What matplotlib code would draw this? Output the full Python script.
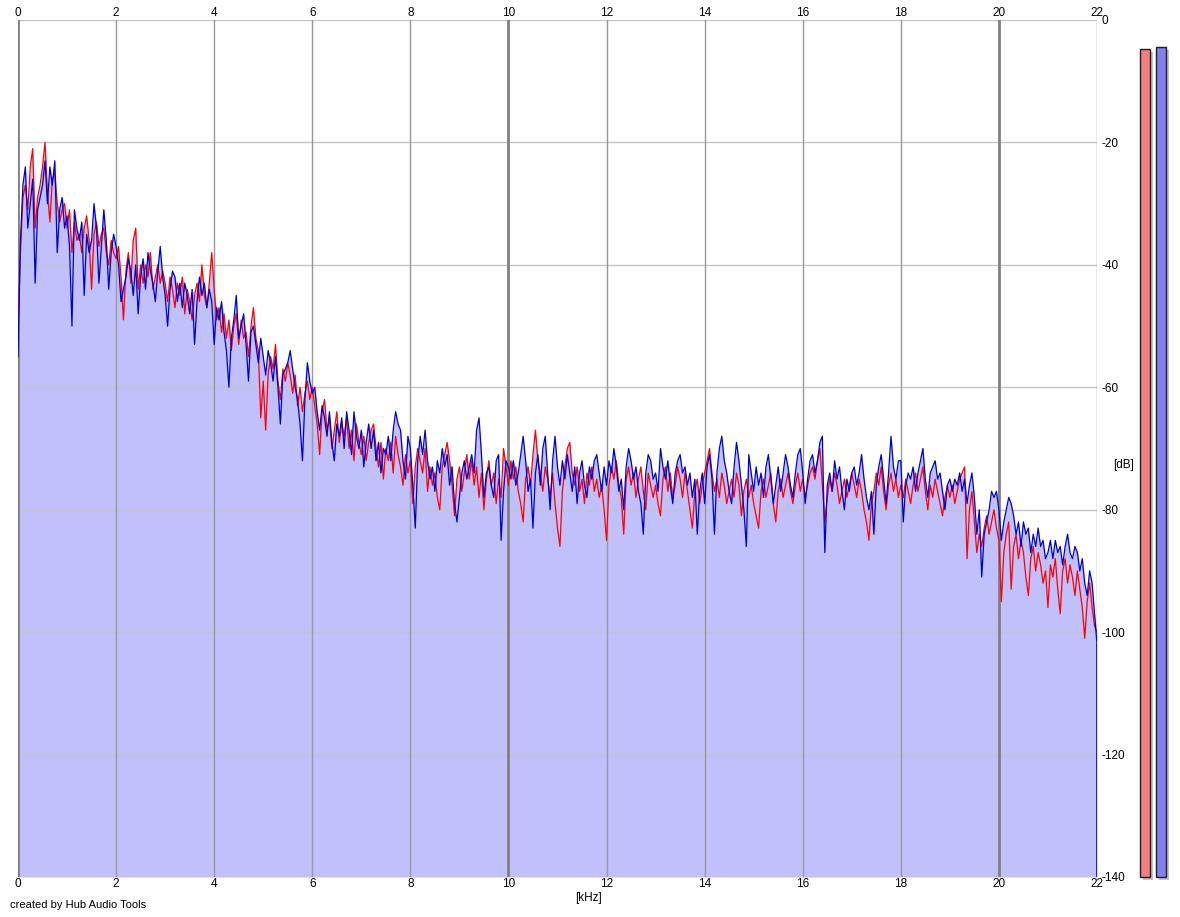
import numpy as np
import matplotlib
matplotlib.use("Agg")
import matplotlib.pyplot as plt

plt.rcParams['font.family'] = ['Liberation Sans', 'DejaVu Sans']

# spectrum, one value every 0.05 kHz from 0 to 22 kHz (dB)
step_khz = 0.05
blue_db = [
    -55, -36, -27, -24, -34, -30, -26, -43, -31, -29, -27, -23, -30, -24, -27, -23, -38, -31, -29, -34,
    -32, -37, -50, -31, -34, -36, -33, -45, -35, -38, -36, -30, -34, -43, -37, -31, -36, -44, -38, -35,
    -37, -40, -46, -44, -42, -39, -41, -45, -40, -48, -42, -39, -44, -38, -41, -43, -46, -41, -37, -42,
    -45, -50, -44, -41, -42, -46, -43, -47, -43, -45, -48, -44, -53, -46, -42, -45, -43, -47, -44, -46,
    -53, -47, -49, -46, -51, -54, -60, -52, -49, -45, -52, -50, -48, -53, -59, -51, -50, -53, -56, -52,
    -55, -58, -54, -56, -59, -55, -60, -66, -58, -57, -56, -54, -57, -60, -62, -66, -72, -62, -56, -59,
    -61, -60, -64, -67, -63, -65, -68, -64, -69, -72, -66, -68, -65, -70, -64, -67, -71, -64, -68, -70,
    -67, -73, -69, -66, -70, -67, -72, -69, -74, -70, -71, -68, -72, -67, -64, -66, -67, -72, -75, -68,
    -70, -76, -83, -72, -68, -71, -67, -72, -75, -73, -77, -72, -74, -70, -73, -71, -76, -73, -79, -82,
    -78, -74, -72, -75, -73, -71, -74, -67, -65, -71, -78, -74, -73, -76, -78, -72, -71, -85, -77, -72,
    -73, -75, -72, -76, -74, -71, -68, -72, -77, -75, -83, -74, -71, -76, -70, -68, -74, -80, -72, -68,
    -73, -76, -72, -75, -71, -74, -77, -73, -79, -74, -72, -76, -78, -73, -75, -72, -71, -74, -77, -73,
    -76, -72, -74, -70, -73, -77, -75, -80, -73, -70, -72, -75, -73, -77, -79, -84, -74, -71, -72, -75,
    -74, -77, -70, -73, -75, -72, -76, -79, -74, -72, -71, -74, -73, -76, -74, -78, -75, -84, -77, -74,
    -79, -73, -71, -75, -84, -74, -70, -68, -72, -74, -77, -79, -73, -69, -72, -76, -80, -86, -71, -74,
    -77, -73, -76, -74, -78, -73, -71, -75, -79, -76, -73, -77, -74, -71, -73, -76, -78, -74, -71, -70,
    -74, -79, -75, -72, -71, -74, -72, -69, -68, -87, -76, -74, -77, -72, -75, -73, -77, -80, -75, -77,
    -74, -73, -76, -74, -71, -75, -78, -80, -77, -84, -76, -73, -71, -75, -79, -74, -68, -73, -75, -72,
    -72, -82, -76, -74, -75, -73, -77, -74, -72, -70, -75, -78, -74, -73, -72, -75, -74, -77, -80, -76,
    -75, -77, -75, -76, -74, -77, -75, -79, -76, -74, -78, -84, -80, -91, -84, -82, -80, -77, -78, -77,
    -80, -85, -82, -80, -78, -79, -81, -84, -82, -86, -82, -84, -83, -87, -84, -86, -83, -86, -85, -88,
    -87, -85, -88, -85, -87, -86, -89, -86, -84, -87, -88, -86, -87, -90, -88, -92, -94, -90, -92, -97,
    -102,
]
red_db = [
    -50, -38, -29, -27, -31, -24, -21, -34, -29, -27, -24, -20, -28, -33, -26, -25, -30, -33, -31, -30,
    -34, -31, -38, -33, -36, -35, -38, -34, -32, -36, -44, -35, -33, -37, -35, -34, -38, -40, -36, -38,
    -39, -37, -42, -49, -41, -38, -43, -36, -34, -44, -40, -43, -40, -42, -38, -44, -42, -40, -43, -41,
    -43, -46, -42, -44, -47, -43, -45, -42, -48, -44, -46, -49, -45, -43, -46, -40, -45, -47, -43, -38,
    -44, -49, -47, -51, -48, -52, -49, -54, -50, -48, -53, -49, -52, -51, -55, -50, -47, -52, -54, -65,
    -59, -67, -58, -55, -57, -53, -59, -62, -57, -59, -56, -58, -61, -58, -63, -60, -64, -61, -59, -62,
    -60, -63, -66, -71, -64, -62, -67, -65, -70, -67, -64, -69, -66, -68, -65, -70, -67, -72, -66, -69,
    -71, -68, -72, -69, -67, -66, -70, -73, -69, -75, -70, -72, -69, -74, -68, -71, -73, -76, -71, -74,
    -72, -79, -73, -70, -72, -74, -70, -77, -73, -76, -74, -78, -80, -73, -71, -69, -72, -76, -81, -75,
    -73, -77, -74, -71, -75, -72, -76, -73, -78, -74, -80, -75, -72, -76, -74, -79, -75, -78, -70, -73,
    -76, -72, -75, -73, -77, -79, -82, -75, -73, -76, -71, -67, -72, -74, -77, -73, -75, -78, -74, -79,
    -83, -86, -77, -73, -70, -69, -74, -76, -73, -77, -75, -79, -74, -76, -73, -77, -75, -78, -76, -80,
    -85, -76, -73, -75, -72, -76, -78, -84, -75, -73, -76, -74, -78, -75, -73, -77, -80, -74, -76, -78,
    -76, -79, -81, -75, -73, -77, -74, -78, -76, -73, -75, -78, -74, -77, -80, -83, -77, -75, -79, -76,
    -74, -72, -70, -74, -77, -75, -78, -74, -76, -79, -77, -75, -78, -74, -76, -81, -77, -75, -78, -76,
    -79, -81, -83, -77, -75, -78, -76, -74, -79, -82, -77, -75, -78, -76, -74, -77, -79, -76, -74, -77,
    -75, -78, -76, -74, -73, -75, -72, -70, -76, -82, -78, -75, -77, -74, -76, -79, -77, -75, -78, -76,
    -74, -76, -78, -75, -77, -80, -82, -85, -79, -77, -74, -76, -73, -77, -80, -76, -74, -77, -75, -78,
    -76, -78, -75, -77, -79, -76, -74, -77, -75, -73, -77, -80, -76, -78, -75, -77, -79, -81, -78, -76,
    -78, -76, -79, -77, -75, -74, -73, -88, -80, -77, -82, -87, -84, -86, -83, -81, -84, -82, -80, -83,
    -85, -95, -87, -84, -82, -93, -86, -84, -88, -85, -87, -91, -94, -88, -86, -90, -87, -89, -92, -90,
    -96, -89, -91, -88, -93, -97, -90, -88, -92, -89, -91, -94, -90, -93, -96, -101, -95, -92, -96, -99,
    -100,
]

# level meters on the right (dB)
red_level = -4.7
blue_level = -4.4

xticks = list(range(0, 23, 2))
yticks = list(range(0, -141, -20))

freq = np.arange(len(blue_db)) * step_khz
blue = np.array(blue_db, dtype=float)
red = np.array(red_db, dtype=float)

W, H = 1180, 917
fig = plt.figure(figsize=(W / 100, H / 100), dpi=100)
fig.patch.set_facecolor("white")

# main plot: x 18..1097 px, y 20..877 px
ax = fig.add_axes([18 / W, (H - 877) / H, (1097 - 18) / W, (877 - 20) / H])
ax.set_xlim(0, 22)
ax.set_ylim(-140, 0)
for s in ax.spines.values():
    s.set_visible(False)

ax.fill_between(freq, -140, np.maximum(blue, red), color="#c0c0fc", lw=0, zorder=1)

for y in yticks:
    ax.axhline(y, color="#c4c4c4", lw=1, zorder=2)
for x in xticks:
    thick = x in (0, 10, 20)
    ax.axvline(x, color="#808080" if thick else "#999999", lw=2 if thick else 1, zorder=2)

ax.plot(freq, red, color="#ff0000", lw=0.9, zorder=3)
ax.plot(freq, blue, color="#0000cc", lw=0.9, zorder=4)
ax.vlines(freq[-1], -140, blue[-1], color="#0000cc", lw=1.2, zorder=4)

ax.set_xticks(xticks)
ax.set_xticklabels([str(x) for x in xticks])
ax.tick_params(axis="x", top=True, labeltop=True, bottom=True, labelbottom=True,
               length=0, pad=1, labelsize=8.5)
ax.yaxis.tick_right()
ax.set_yticks(yticks)
ax.set_yticklabels([str(y) for y in yticks])
ax.tick_params(axis="y", length=0, pad=3, labelsize=8.5)

fig.text(1113 / W, 1 - 465 / H, "[dB]", fontsize=8.5, va="center", ha="left")
fig.text(589 / W, 1 - 898 / H, "[kHz]", fontsize=8.5, va="center", ha="center")
fig.text(10 / W, 1 - 905 / H, "created by Hub Audio Tools", fontsize=8, va="center", ha="left")

# level meters
mx = fig.add_axes([1130 / W, (H - 877) / H, 50 / W, (877 - 20) / H])
mx.set_xlim(1130, 1180)
mx.set_ylim(-140, 0)
mx.axis("off")
shadow = 3 / 6.12
for xpos, lvl, col in [(1140, red_level, "#f08080"), (1156, blue_level, "#8080f0")]:
    mx.bar(xpos + 3, lvl + 140, bottom=-140 - shadow, width=10, align="edge",
           color="#c4c4c4", lw=0, clip_on=False, zorder=1)
    mx.bar(xpos, lvl + 140, bottom=-140, width=10, align="edge",
           color=col, edgecolor="#202020", lw=1, clip_on=False, zorder=2)

fig.savefig("out.png", dpi=100)
